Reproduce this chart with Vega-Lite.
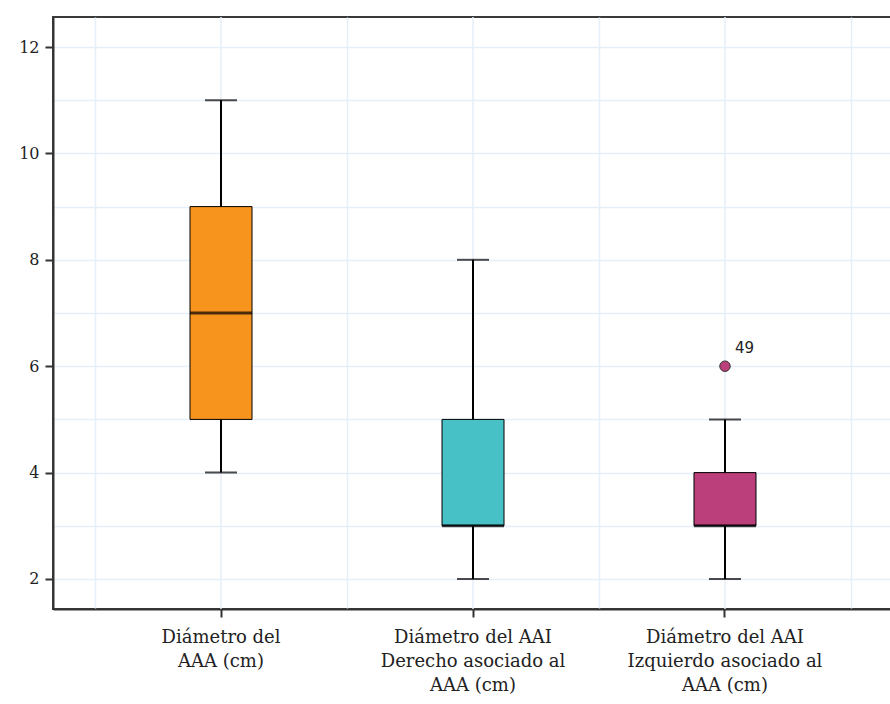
{
  "$schema": "https://vega.github.io/schema/vega-lite/v6.json",
  "width": 840,
  "height": 592,
  "autosize": {"type": "none"},
  "padding": {"left": 53, "top": 17, "right": 0, "bottom": 95},
  "background": "white",
  "config": {
    "view": {"stroke": "#3a3a3a", "strokeWidth": 2},
    "axisY": {
      "labelFont": "DejaVu Serif", "labelFontSize": 16, "labelColor": "#222", "labelPadding": 6,
      "tickSize": 8, "tickWidth": 2, "tickColor": "#333",
      "domainColor": "#333", "domainWidth": 2,
      "gridColor": "#E6EEF9", "gridWidth": 1.5
    },
    "axisX": {
      "labelFont": "DejaVu Serif", "labelFontSize": 18, "labelColor": "#222",
      "tickSize": 8, "tickWidth": 2, "tickColor": "#333",
      "domainColor": "#333", "domainWidth": 2,
      "gridColor": "#E6EEF9", "gridWidth": 1.5
    }
  },
  "data": {
    "values": [
      {"grupo": "Diámetro del AAA (cm)", "min": 4, "q1": 5, "mediana": 7, "q3": 9, "max": 11, "atipico": null, "caso": null},
      {"grupo": "Diámetro del AAI Derecho asociado al AAA (cm)", "min": 2, "q1": 3, "mediana": 3, "q3": 5, "max": 8, "atipico": null, "caso": null},
      {"grupo": "Diámetro del AAI Izquierdo asociado al AAA (cm)", "min": 2, "q1": 3, "mediana": 3, "q3": 4, "max": 5, "atipico": 6, "caso": "49"}
    ]
  },
  "resolve": {"axis": {"x": "independent"}},
  "layer": [
    {
      "mark": {"type": "rule", "color": "#E6EEF9", "strokeWidth": 1.5},
      "encoding": {
        "x": {
          "field": "grupo", "type": "nominal", "sort": null,
          "scale": {"paddingInner": 0, "paddingOuter": 0.1667},
          "axis": {
            "title": null, "grid": false, "labelAngle": 0, "labelLimit": 0,
            "labelLineHeight": 24, "labelPadding": 11, "labelBaseline": "top",
            "labelExpr": "datum.value == 'Diámetro del AAA (cm)' ? ['Diámetro del', 'AAA (cm)'] : datum.value == 'Diámetro del AAI Derecho asociado al AAA (cm)' ? ['Diámetro del AAI', 'Derecho asociado al', 'AAA (cm)'] : ['Diámetro del AAI', 'Izquierdo asociado al', 'AAA (cm)']"
          }
        }
      }
    },
    {
      "encoding": {
        "x": {
          "field": "grupo", "type": "nominal", "sort": null,
          "axis": {
            "orient": "top", "title": null, "grid": true, "tickBand": "extent",
            "labels": false, "ticks": false, "domain": false
          }
        }
      },
      "layer": [
        {
          "mark": {"type": "rule", "color": "black", "strokeWidth": 2},
          "encoding": {
            "y": {
              "field": "min", "type": "quantitative",
              "scale": {"domain": [1.436, 12.564], "nice": false, "zero": false},
              "axis": {
                "title": null, "values": [2, 3, 4, 5, 6, 7, 8, 9, 10, 11, 12],
                "labelExpr": "datum.value % 2 === 0 ? datum.label : ''",
                "grid": true,
                "tickOpacity": {"condition": {"test": "datum.value % 2 === 0", "value": 1}, "value": 0}
              }
            },
            "y2": {"field": "max"}
          }
        },
        {
          "mark": {"type": "tick", "color": "black", "size": 32, "thickness": 2},
          "encoding": {"y": {"field": "min", "type": "quantitative"}}
        },
        {
          "mark": {"type": "tick", "color": "black", "size": 32, "thickness": 2},
          "encoding": {"y": {"field": "max", "type": "quantitative"}}
        },
        {
          "mark": {"type": "bar", "size": 62, "stroke": "black", "strokeWidth": 1},
          "encoding": {
            "y": {"field": "q1", "type": "quantitative"},
            "y2": {"field": "q3"},
            "color": {
              "field": "grupo", "type": "nominal", "sort": null, "legend": null,
              "scale": {"range": ["#F7941E", "#48C1C6", "#BA3F7A"]}
            }
          }
        },
        {
          "mark": {"type": "tick", "color": "black", "size": 62, "thickness": 3},
          "encoding": {"y": {"field": "mediana", "type": "quantitative"}}
        },
        {
          "mark": {"type": "point", "filled": true, "fill": "#BA3F7A", "stroke": "#333", "strokeWidth": 1, "size": 110, "opacity": 1},
          "encoding": {"y": {"field": "atipico", "type": "quantitative"}}
        },
        {
          "mark": {"type": "text", "align": "left", "dx": 10, "dy": -18, "font": "DejaVu Sans", "fontSize": 15, "color": "#222"},
          "encoding": {
            "y": {"field": "atipico", "type": "quantitative"},
            "text": {"field": "caso"}
          }
        }
      ]
    }
  ]
}
